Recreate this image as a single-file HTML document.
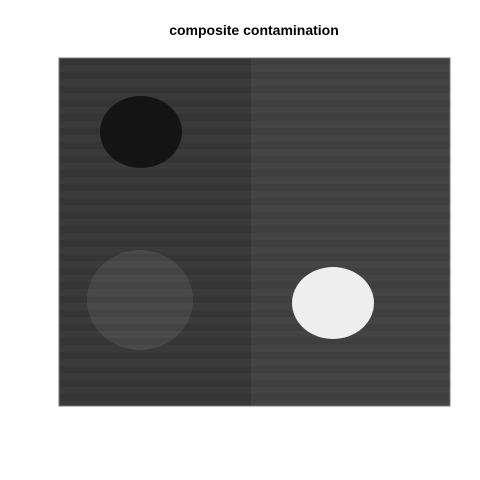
<!DOCTYPE html>
<html><head><meta charset="utf-8"><style>
html,body{margin:0;padding:0;background:#fff;width:480px;height:480px;overflow:hidden}
</style></head><body>
<svg width="480" height="480" xmlns="http://www.w3.org/2000/svg">
<defs>
<clipPath id="plot"><rect x="59" y="58" width="391" height="348"/></clipPath>
<pattern id="bands" x="0" y="58" width="4" height="14" patternUnits="userSpaceOnUse">
<rect x="0" y="0" width="4" height="7" fill="#000" fill-opacity="0.08"/>
</pattern>
</defs>
<text x="254" y="35" text-anchor="middle" font-family="Liberation Sans, sans-serif" font-weight="bold" font-size="14" fill="#000">composite contamination</text>
<g clip-path="url(#plot)">
<rect x="59" y="58" width="192" height="348" fill="#3a3a3a"/>
<rect x="251" y="58" width="199" height="348" fill="#444444"/>
<ellipse cx="140" cy="300" rx="53" ry="50" fill="#4a4a4a"/>
<rect x="59" y="58" width="391" height="348" fill="url(#bands)"/>
<ellipse cx="141" cy="132" rx="41" ry="36" fill="#141414"/>
<ellipse cx="333" cy="303" rx="41" ry="36" fill="#eeeeee"/>
</g>
<rect x="59" y="58" width="391" height="348" fill="none" stroke="#777" stroke-width="1"/>
</svg>
</body></html>
